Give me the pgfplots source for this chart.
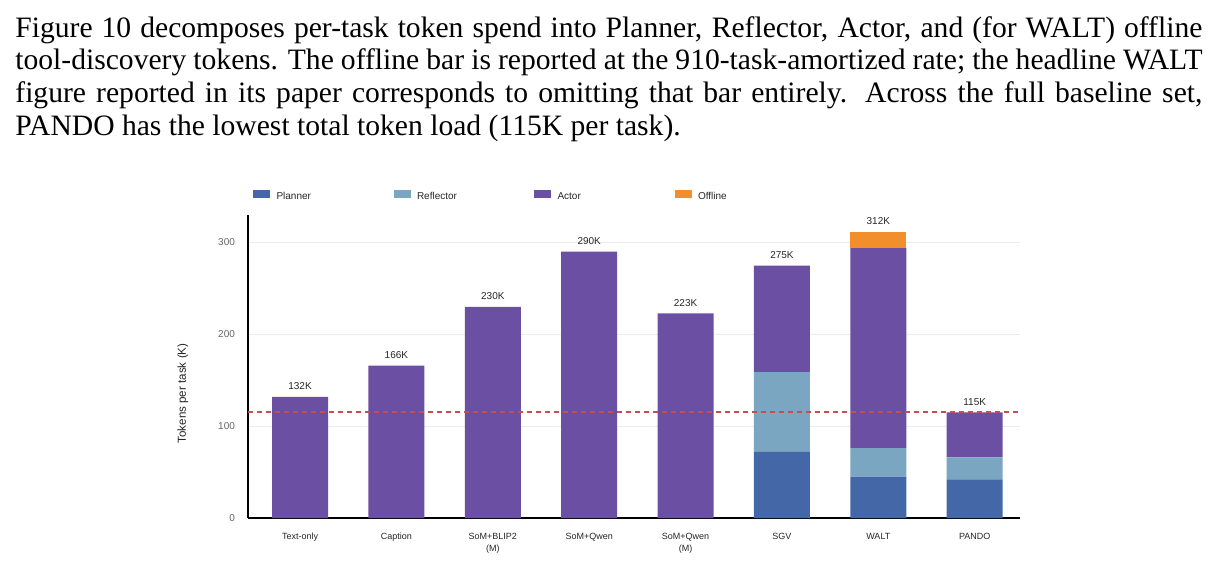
\documentclass[border=0pt]{standalone}
\usepackage{fontspec}
\setmainfont{Liberation Serif}
\setsansfont{Liberation Sans}
\newfontfamily\chartfont{Liberation Sans}
\usepackage{pgfplots}
\pgfplotsset{compat=1.18}
\definecolor{cPlan}{HTML}{4467A8}
\definecolor{cRefl}{HTML}{7AA6C2}
\definecolor{cAct}{HTML}{6A4FA3}
\definecolor{cOff}{HTML}{F28E2B}
\definecolor{cRef}{HTML}{C44E52}
\pgfplotsset{sq/.style={legend image code/.code={\fill[#1] (0pt,-0.3pt) rectangle (8.5pt,3.7pt);}}}
\begin{document}
\begin{tikzpicture}
\path[use as bounding box] (-124pt,-31pt) rectangle (487pt,259pt);
\node[anchor=base west, inner sep=0pt] at (-116.5pt,240.3pt) {\parbox[t]{593.5pt}{\fontsize{14.8}{16.3}\selectfont\hyphenpenalty=10000\noindent
Figure 10 decomposes per-task token spend into Planner, Reflector, Actor, and (for WALT) offline\linebreak
tool-discovery tokens. The offline bar is reported at the 910-task-amortized rate; the headline WALT\linebreak
figure reported in its paper corresponds to omitting that bar entirely. Across the full baseline set,\linebreak
PANDO has the lowest total token load (115K per task).}};
\begin{axis}[
  at={(0,0)}, anchor=south west,
  scale only axis, width=386pt, height=151.5pt,
  xmin=-0.54, xmax=7.47, ymin=0, ymax=330,
  ybar stacked, bar width=28pt,
  axis x line=bottom, axis y line=left,
  axis line style={-, black, line width=0.7pt},
  xtick={0,1,2,3,4,5,6,7},
  xticklabels={Text-only, Caption, {SoM+BLIP2\\(M)}, SoM+Qwen, {SoM+Qwen\\(M)}, SGV, WALT, PANDO},
  x tick label style={font=\chartfont\fontsize{4.5}{6}\selectfont, align=center, text=black!85, yshift=-4pt},
  ytick={0,100,200,300},
  /pgf/number format/assume math mode=true,
  y tick label style={font=\chartfont\fontsize{5}{6}\selectfont, text=black!60, xshift=-3pt},
  major tick length=0pt,
  ymajorgrids, grid style={black!8, line width=0.6pt},
  ylabel={Tokens per task (K)},
  ylabel style={at={(axis description cs:-0.0842,0.411)}, anchor=center, font=\chartfont\fontsize{5.8}{7}\selectfont, text=black!85},
  legend columns=4,
  legend style={at={(0.006,1.0627)}, anchor=west, draw=none, fill=none, inner sep=0pt,
    nodes={inner sep=0pt, font=\chartfont\fontsize{5}{6}\selectfont, text=black!85},
    /tikz/every odd column/.append style={column sep=3.25pt}},
]
\addplot[fill=cPlan, draw=none, sq=cPlan] coordinates {(0,0) (1,0) (2,0) (3,0) (4,0) (5,72) (6,45) (7,42)};
\addlegendentry{\makebox[58.5pt][l]{Planner}}
\addplot[fill=cRefl, draw=none, sq=cRefl] coordinates {(0,0) (1,0) (2,0) (3,0) (4,0) (5,87) (6,31) (7,24)};
\addlegendentry{\makebox[58.5pt][l]{Reflector}}
\addplot[fill=cAct, draw=none, sq=cAct] coordinates {(0,132) (1,166) (2,230) (3,290) (4,223) (5,116) (6,218) (7,49)};
\addlegendentry{\makebox[58.5pt][l]{Actor}}
\addplot[fill=cOff, draw=none, sq=cOff] coordinates {(0,0) (1,0) (2,0) (3,0) (4,0) (5,0) (6,18) (7,0)};
\addlegendentry{\makebox[58.5pt][l]{Offline}}
\end{axis}
\begin{axis}[
  at={(0,0)}, anchor=south west,
  scale only axis, width=386pt, height=151.5pt,
  xmin=-0.54, xmax=7.47, ymin=0, ymax=330,
  hide axis, clip=false,
]
\addplot[cRef, line width=0.95pt, dash pattern=on 2.5pt off 2pt] coordinates {(-0.54,115) (7.47,115)};
\addplot[draw=none, mark=none, nodes near coords, point meta=explicit symbolic,
  every node near coord/.append style={font=\chartfont\fontsize{5}{6}\selectfont, text=black!85, anchor=south, yshift=0pt}]
  table[x=x, y=y, meta=lab] {
x y lab
0 132 132K
1 166 166K
2 230 230K
3 290 290K
4 223 223K
5 275 275K
6 312 312K
7 115 115K
};
\end{axis}
\end{tikzpicture}
\end{document}
